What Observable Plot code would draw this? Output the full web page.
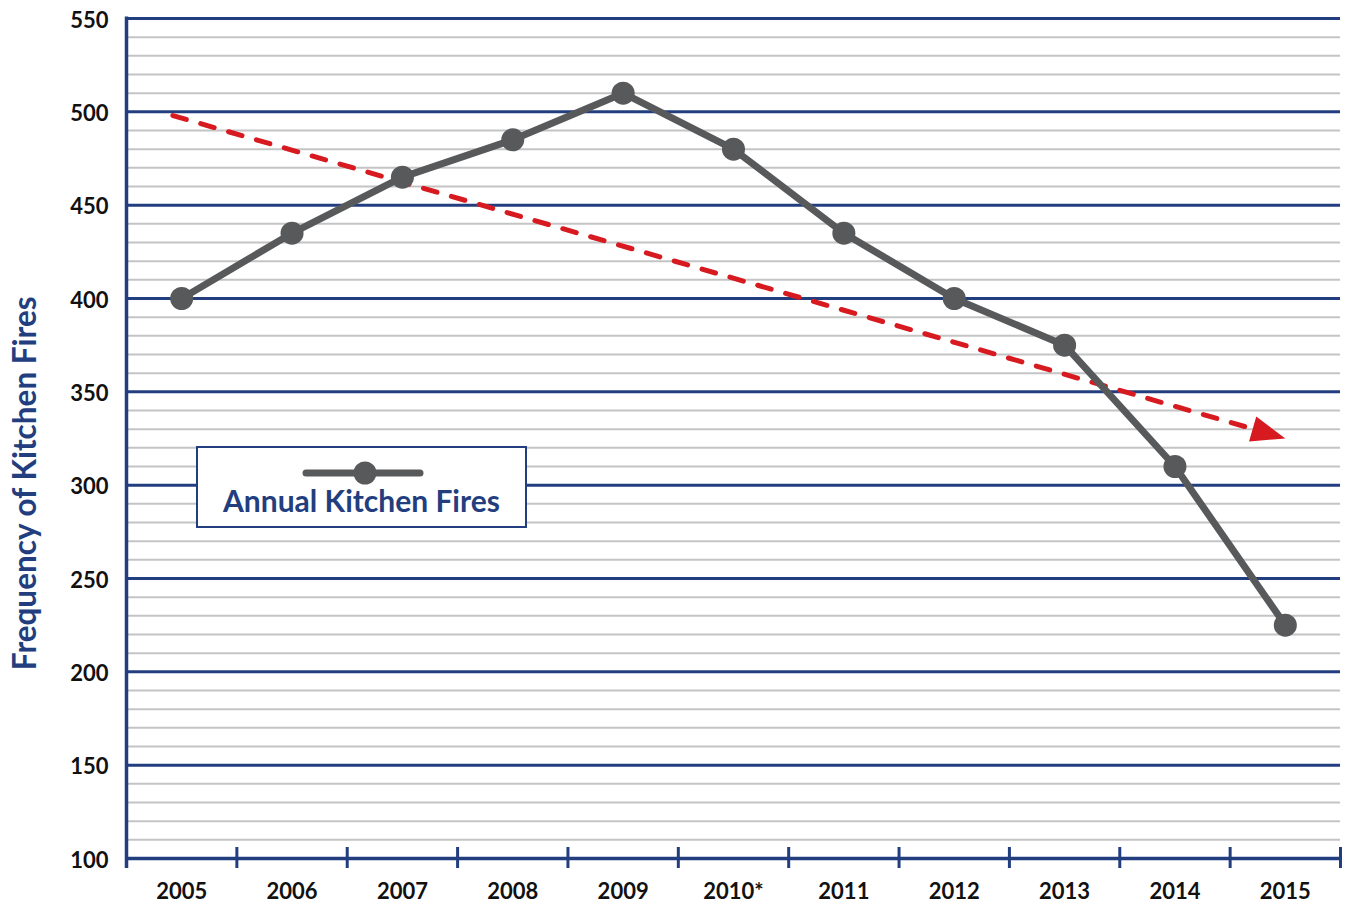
<!DOCTYPE html>
<html>
<head>
<meta charset="utf-8">
<script src="https://cdn.jsdelivr.net/npm/d3@7"></script>
<script src="https://cdn.jsdelivr.net/npm/@observablehq/plot@0.6"></script>
<style>
  body { margin: 0; background: #fff; }
  #wrap { position: relative; width: 1348px; height: 903px; font-family: Lato, "Open Sans", sans-serif; }
  #legend { position: absolute; left: 196px; top: 446px; width: 327px; height: 78px; border: 2.5px solid #233e7f; background: #fff; }
  #legend svg { position: absolute; left: 100px; top: 10px; }
  #legend .lbl { position: absolute; left: 0; width: 100%; top: 34px; line-height: normal; text-align: center; font: 700 30px Lato, sans-serif; color: #233e7f; white-space: nowrap; }
</style>
</head>
<body>
<div id="wrap"></div>
<script>
// ---- data ----
const years = [2005, 2006, 2007, 2008, 2009, 2010, 2011, 2012, 2013, 2014, 2015];
const yearLabels = ["2005", "2006", "2007", "2008", "2009", "2010*", "2011", "2012", "2013", "2014", "2015"];
const fires = [400, 435, 465, 485, 510, 480, 435, 400, 375, 310, 225];
const trendX = [2004.92, 2014.86];
const trendY = [498, 327.5];
const arrowX = [2015];
const arrowY = [325];
const yMajor = [100, 150, 200, 250, 300, 350, 400, 450, 500, 550];
const yMinor = d3.range(110, 550, 10).filter(v => v % 50 !== 0);
const bandEdges = d3.range(2005.5, 2016, 1);

const navy = "#233e7f";
const gray = "#58595b";
const red = "#d71920";

const series = years.map((y, i) => ({year: y, value: fires[i]}));
const trend = trendX.map((x, i) => ({x, y: trendY[i]}));
const arrow = arrowX.map((x, i) => ({x, y: arrowY[i]}));

const arrowHead = {
  draw(ctx) {
    ctx.moveTo(0, 0);
    ctx.lineTo(-34, -13);
    ctx.lineTo(-34, 13);
    ctx.closePath();
  }
};

const chart = Plot.plot({
  width: 1348,
  height: 903,
  marginLeft: 126,
  marginRight: 8,
  marginTop: 18,
  marginBottom: 45,
  style: {fontFamily: "Lato, sans-serif", fontWeight: 700, fontSize: "22px", color: "#111", background: "#fff", overflow: "visible"},
  x: {domain: [2004.5, 2015.5]},
  y: {domain: [100, 550]},
  marks: [
    Plot.ruleY(yMinor, {stroke: "#c4c4c4", strokeWidth: 2, insetLeft: 2}),
    Plot.ruleY(yMajor.filter(v => v !== 100), {stroke: navy, strokeWidth: 3}),
    Plot.ruleY([100], {stroke: navy, strokeWidth: 3.5}),
    Plot.ruleX([2004.5], {y1: 550, y2: 100, stroke: navy, strokeWidth: 3.5, insetBottom: -10, insetTop: -1.5}),
    Plot.ruleX(bandEdges, {y1: 100, y2: 100, stroke: navy, strokeWidth: 3, insetTop: -11, insetBottom: -10}),
    Plot.axisY({ticks: yMajor, tickSize: 0, tickPadding: 18, dy: 2, fill: "#111", fontWeight: 700, fontSize: 22, label: null}),
    Plot.axisX({ticks: years, tickSize: 0, tickPadding: 25, tickFormat: d => yearLabels[years.indexOf(d)], fill: "#111", fontWeight: 700, fontSize: 22, label: null}),
    Plot.text(["Frequency of Kitchen Fires"], {frameAnchor: "left", textAnchor: "middle", y: () => 301, dx: -101, rotate: -90, fill: navy, fontSize: 31.5, fontWeight: 700}),
    Plot.line(trend, {x: "x", y: "y", stroke: red, strokeWidth: 5, strokeDasharray: "14,15", strokeLinecap: "round"}),
    Plot.dot(arrow, {x: "x", y: "y", symbol: arrowHead, r: 10, fill: red, stroke: "none", rotate: 16.2}),
    Plot.line(series, {x: "year", y: "value", stroke: gray, strokeWidth: 7, strokeLinejoin: "round"}),
    Plot.dot(series, {x: "year", y: "value", r: 11.5, fill: gray, stroke: "none"})
  ]
});

const wrap = document.getElementById("wrap");
wrap.appendChild(chart);

const legend = document.createElement("div");
legend.id = "legend";
legend.innerHTML = `<svg width="130" height="30"><line x1="8" y1="15" x2="122" y2="15" stroke="${gray}" stroke-width="7" stroke-linecap="round"/><circle cx="67" cy="15" r="11.5" fill="${gray}"/></svg><div class="lbl">Annual Kitchen Fires</div>`;
wrap.appendChild(legend);
</script>
</body>
</html>
